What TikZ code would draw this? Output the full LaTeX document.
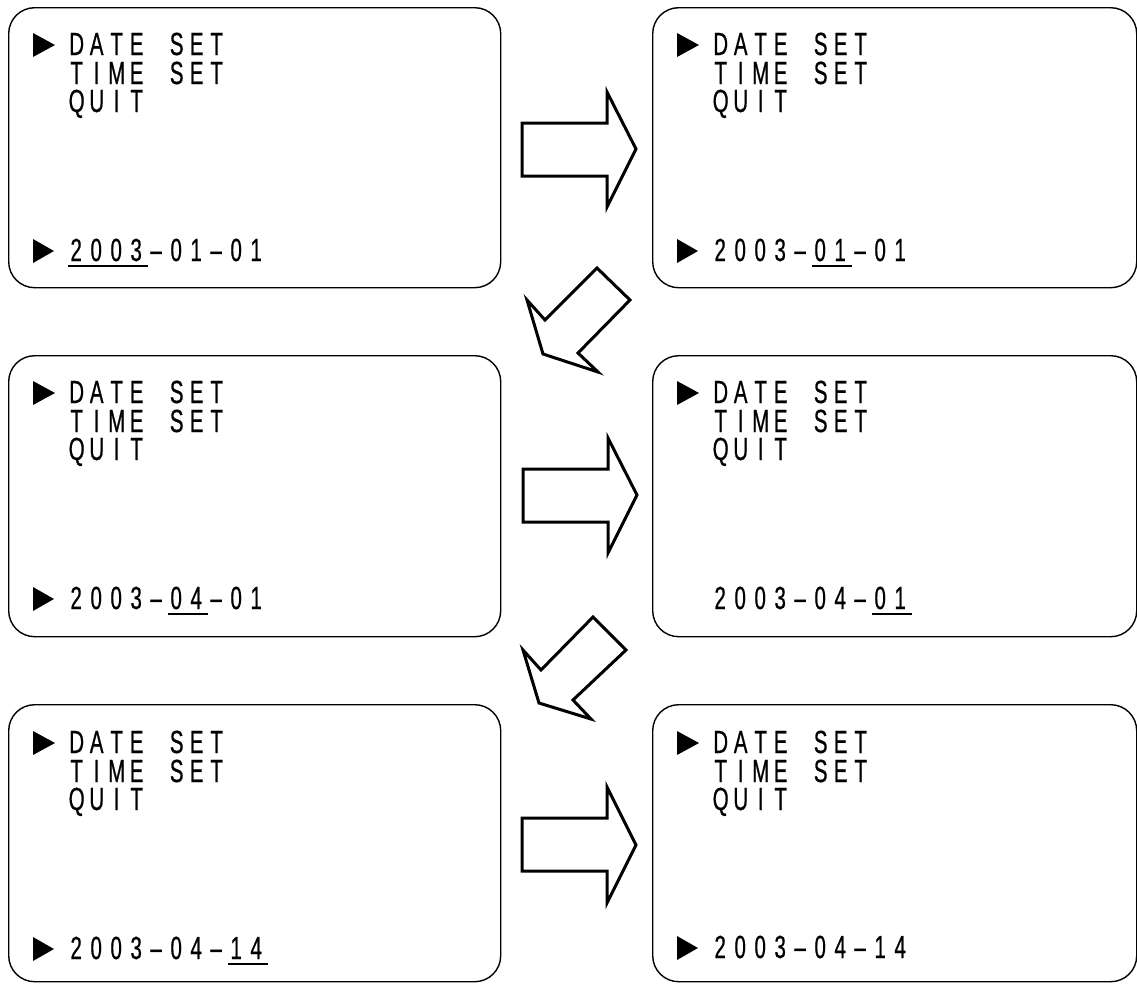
\documentclass[tikz,border=0pt]{standalone}
\usepackage{fontspec}
\newfontfamily\lcd[FakeStretch=0.64,FakeBold=0.6]{Liberation Sans}
\ExplSyntaxOn
\NewDocumentCommand\lcdgrid{m}{\tl_map_inline:nn{#1}{\makebox[20pt][c]{##1}}}
\ExplSyntaxOff
\tikzset{
  screen/.style={draw, line width=1.4pt, rounded corners=26pt, inner sep=0pt, anchor=north west},
  lcdtext/.style={anchor=base west, inner sep=0pt, text height=22pt, text depth=2pt, font=\lcd\fontsize{32}{32}\selectfont},
  bigarrow/.style={draw, line width=3pt, fill=white, line join=miter},
  uline/.style={line width=2pt},
  marker/.style={fill=black}
}
% #1 prefix, #2 screen left x, #3 y offset
\newcommand\menublock[3]{%
  \fill[marker] (#2+25,33+#3) -- ++(22,12) -- ++(-22,12) -- cycle;
  \node[lcdtext] (#1d) at (#2+58.5,55+#3) {\lcdgrid{DATE~SET}};
  \node[lcdtext] (#1t) at (#2+58.5,84+#3) {\lcdgrid{TIME~SET}};
  \node[lcdtext] (#1q) at (#2+58.5,112+#3) {\lcdgrid{QUIT}};
}
% #1 prefix, #2 screen left x, #3 baseline y, #4 date, #5 first underlined char, #6 count, #7 marker(1/0)
\newcommand\dateline[7]{%
  \ifnum#7=1 \fill[marker] (#2+25,#3-22) -- ++(21,12) -- ++(-21,12) -- cycle;\fi
  \node[lcdtext] (#1v) at (#2+58,#3) {\lcdgrid{#4}};
  \ifnum#6>0 \draw[uline] (#2+60+20*#5,#3+5) -- ++(20*#6,0);\fi
}
\begin{document}
\begin{tikzpicture}[x=1pt,y=-1pt]
\useasboundingbox (0,0) rectangle (1137,983);
% screens
\node[screen, minimum width=492pt, minimum height=280pt] (s1) at (8,7) {};
\node[screen, minimum width=484pt, minimum height=280pt] (s2) at (652,7) {};
\node[screen, minimum width=492pt, minimum height=281pt] (s3) at (8,355) {};
\node[screen, minimum width=484pt, minimum height=281pt] (s4) at (652,355) {};
\node[screen, minimum width=492pt, minimum height=277pt] (s5) at (8,704) {};
\node[screen, minimum width=484pt, minimum height=277pt] (s6) at (652,704) {};
% contents
\menublock{a}{8}{0}
\dateline{a}{8}{261}{2003–01–01}{0}{4}{1}
\menublock{b}{652}{0}
\dateline{b}{652}{261}{2003–01–01}{5}{2}{1}
\menublock{c}{8}{348}
\dateline{c}{8}{609}{2003–04–01}{5}{2}{1}
\menublock{d}{652}{348}
\dateline{d}{652}{609}{2003–04–01}{8}{2}{0}
\menublock{e}{8}{698}
\dateline{e}{8}{959}{2003–04–14}{8}{2}{1}
\menublock{f}{652}{698}
\dateline{f}{652}{958}{2003–04–14}{0}{0}{1}
% right arrows
\draw[bigarrow] (522,123) -- (607,123) -- (607,92) -- (636,149) -- (607,207) -- (607,176) -- (522,176) -- cycle;
\draw[bigarrow] (523,469) -- (608,469) -- (608,438) -- (637,495) -- (608,553) -- (608,522) -- (523,522) -- cycle;
\draw[bigarrow] (522,818) -- (607,818) -- (607,787) -- (636,845) -- (607,903) -- (607,871) -- (522,871) -- cycle;
% diagonal arrows
\draw[bigarrow] (597,268) -- (630,300) -- (578,353) -- (598,372) -- (543,354) -- (527,300) -- (545,320) -- cycle;
\draw[bigarrow] (593,617) -- (626,650) -- (573,700) -- (591,719) -- (539,703) -- (523,650) -- (541,670) -- cycle;
\end{tikzpicture}
\end{document}
